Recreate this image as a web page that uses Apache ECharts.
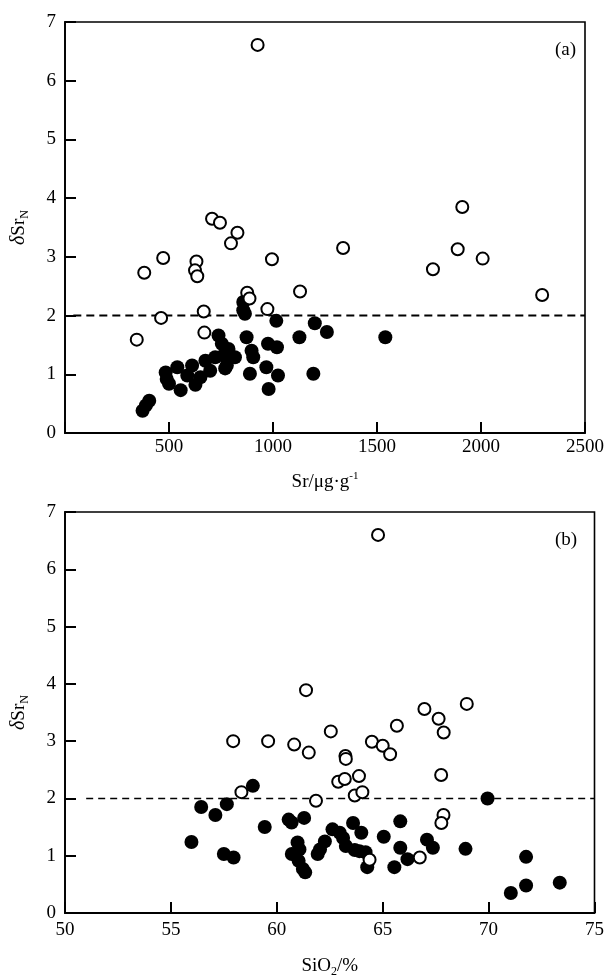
<!DOCTYPE html>
<html>
<head>
<meta charset="utf-8">
<title>δSrN vs Sr and SiO2</title>
<script src="https://cdn.jsdelivr.net/npm/echarts@6/dist/echarts.min.js"></script>
<style>
  html, body { margin: 0; padding: 0; background: #fff; }
  #chart { width: 607px; height: 979px; }
</style>
</head>
<body>
<div id="chart"></div>
<script>
  // (a) δSrN 对 Sr (μg/g)
  var srOpen = [
    [926, 6.61], [707, 3.65], [745, 3.58], [829, 3.41], [798, 3.23], [472, 2.98],
    [381, 2.73], [632, 2.92], [625, 2.77], [636, 2.67], [995, 2.96], [1337, 3.15],
    [1130, 2.41], [876, 2.39], [887, 2.29], [973, 2.11], [667, 2.07], [462, 1.96],
    [670, 1.71], [345, 1.59], [1769, 2.79], [1888, 3.13], [1910, 3.85], [2008, 2.97],
    [2294, 2.35]
  ];
  var srFilled = [
    [373, 0.38], [389, 0.47], [405, 0.55], [484, 1.03], [489, 0.92], [500, 0.84],
    [540, 1.12], [556, 0.73], [588, 0.98], [611, 1.15], [627, 0.82], [651, 0.95],
    [675, 1.23], [698, 1.06], [722, 1.29], [738, 1.66], [754, 1.52], [778, 1.15],
    [786, 1.43], [817, 1.29], [762, 1.32], [770, 1.10], [857, 2.23], [857, 2.09],
    [865, 2.03], [873, 1.63], [897, 1.40], [905, 1.29], [889, 1.01], [976, 1.52],
    [1019, 1.46], [968, 1.12], [1024, 0.98], [979, 0.75], [1016, 1.91], [1127, 1.63],
    [1194, 1.01], [1201, 1.87], [1259, 1.72], [1540, 1.63]
  ];
  var srRef = [[40, 2], [2500, 2]];

  // (b) δSrN 对 SiO2 (%)
  var siOpen = [
    [64.78, 6.60], [61.38, 3.89], [66.97, 3.56], [68.97, 3.65], [67.64, 3.39],
    [67.88, 3.15], [65.67, 3.27], [62.55, 3.17], [57.94, 3.00], [59.59, 3.00],
    [60.82, 2.94], [61.51, 2.80], [64.49, 2.99], [65.00, 2.92], [65.35, 2.77],
    [63.24, 2.74], [63.26, 2.69], [62.90, 2.29], [63.21, 2.34], [63.88, 2.39],
    [67.76, 2.41], [58.33, 2.11], [63.68, 2.05], [64.04, 2.11], [61.85, 1.96],
    [67.87, 1.71], [67.77, 1.57], [66.75, 0.97], [64.38, 0.93]
  ];
  var siFilled = [
    [55.97, 1.24], [56.43, 1.85], [57.10, 1.71], [57.64, 1.90], [58.87, 2.22],
    [57.50, 1.03], [57.96, 0.97], [59.43, 1.50], [60.56, 1.63], [60.70, 1.58],
    [61.29, 1.66], [60.98, 1.23], [61.07, 1.11], [60.71, 1.03], [61.03, 0.91],
    [61.23, 0.77], [61.34, 0.71], [61.93, 1.03], [62.04, 1.11], [62.27, 1.25],
    [62.63, 1.46], [62.97, 1.40], [63.13, 1.31], [63.26, 1.17], [63.60, 1.57],
    [63.68, 1.10], [63.99, 1.40], [63.90, 1.08], [64.19, 1.06], [64.27, 0.80],
    [65.05, 1.33], [65.55, 0.80], [65.83, 1.60], [65.83, 1.14], [66.17, 0.94],
    [67.09, 1.28], [67.37, 1.14], [68.91, 1.12], [69.95, 2.00], [71.77, 0.98],
    [71.05, 0.35], [71.77, 0.48], [73.36, 0.53]
  ];
  var siRef = [[51, 2], [75, 2]];

  var yTicks = [0, 1, 2, 3, 4, 5, 6, 7];

  var FONT = "'Liberation Serif', 'DejaVu Serif', serif";

  var chart = echarts.init(document.getElementById('chart'));

  function xAxisOf(grid, min, max, step, name, hideFirst, gap) {
    return {
      type: 'value', gridIndex: grid, min: min, max: max, interval: step,
      name: name, nameLocation: 'middle', nameGap: 38 + gap,
      nameTextStyle: {
        color: '#000', fontFamily: FONT, fontSize: 19,
        rich: {
          t: { fontFamily: FONT, fontSize: 19, color: '#000' },
          sup: { fontFamily: FONT, fontSize: 11, color: '#000', verticalAlign: 'top', lineHeight: 22 },
          sub: { fontFamily: FONT, fontSize: 12, color: '#000', verticalAlign: 'bottom', lineHeight: 24 }
        }
      },
      axisLine: { show: true, onZero: false, lineStyle: { color: '#000', width: 1.8 } },
      axisTick: { show: true, inside: true, length: 11, lineStyle: { color: '#000', width: 2 } },
      axisLabel: {
        show: true, color: '#000', fontFamily: FONT, fontSize: 19, margin: 5 + gap,
        formatter: function (v) { return (hideFirst && v === min) ? '' : v; }
      },
      splitLine: { show: false }
    };
  }

  function yAxisOf(grid) {
    return {
      type: 'value', gridIndex: grid, min: yTicks[0], max: yTicks[yTicks.length - 1], interval: 1,
      name: '{d|δ}{t|Sr}{sub|N}', nameLocation: 'middle', nameGap: 34, nameRotate: 90,
      nameTextStyle: {
        rich: {
          d: { fontFamily: FONT, fontSize: 20, fontStyle: 'italic', color: '#000' },
          t: { fontFamily: FONT, fontSize: 19, color: '#000' },
          sub: { fontFamily: FONT, fontSize: 12, color: '#000', verticalAlign: 'bottom', lineHeight: 24 }
        }
      },
      axisLine: { show: true, onZero: false, lineStyle: { color: '#000', width: 1.8 } },
      axisTick: { show: true, inside: true, length: 11, lineStyle: { color: '#000', width: 2 } },
      axisLabel: { show: true, color: '#000', fontFamily: FONT, fontSize: 19, margin: 9 },
      splitLine: { show: false }
    };
  }

  var openStyle = { color: '#fff', borderColor: '#000', borderWidth: 2, opacity: 1 };
  var filledStyle = { color: '#000', opacity: 1 };

  var option = {
    animation: false,
    backgroundColor: '#fff',
    title: [
      { text: '(a)', left: 550, top: 36, textStyle: { fontFamily: FONT, fontSize: 19, fontWeight: 'normal', color: '#000' } },
      { text: '(b)', left: 550, top: 526, textStyle: { fontFamily: FONT, fontSize: 19, fontWeight: 'normal', color: '#000' } }
    ],
    grid: [
      { left: 65, top: 22, width: 530, height: 411, show: true, borderColor: '#000', borderWidth: 1.6 },
      { left: 65, top: 512, width: 530, height: 411, show: true, borderColor: '#000', borderWidth: 1.6 }
    ],
    xAxis: [
      xAxisOf(0, 0, 2500, 500, '{t|Sr/μg·g}{sup|-1}', true, 0),
      xAxisOf(1, 50, 75, 5, '{t|SiO}{sub|2}{t|/%}', false, 3)
    ],
    yAxis: [yAxisOf(0), yAxisOf(1)],
    series: [
      { type: 'line', xAxisIndex: 0, yAxisIndex: 0, data: srRef, symbol: 'none', silent: true, z: 1,
        lineStyle: { color: '#000', width: 2, type: [8, 5] } },
      { type: 'scatter', xAxisIndex: 0, yAxisIndex: 0, data: srFilled, symbol: 'circle', symbolSize: 14, itemStyle: filledStyle, z: 2 },
      { type: 'scatter', xAxisIndex: 0, yAxisIndex: 0, data: srOpen, symbol: 'circle', symbolSize: 12, itemStyle: openStyle, z: 3 },
      { type: 'line', xAxisIndex: 1, yAxisIndex: 1, data: siRef, symbol: 'none', silent: true, z: 1,
        lineStyle: { color: '#000', width: 1.4, type: [7, 5] } },
      { type: 'scatter', xAxisIndex: 1, yAxisIndex: 1, data: siFilled, symbol: 'circle', symbolSize: 14, itemStyle: filledStyle, z: 2 },
      { type: 'scatter', xAxisIndex: 1, yAxisIndex: 1, data: siOpen, symbol: 'circle', symbolSize: 12, itemStyle: openStyle, z: 3 }
    ]
  };

  chart.setOption(option);
</script>
</body>
</html>
